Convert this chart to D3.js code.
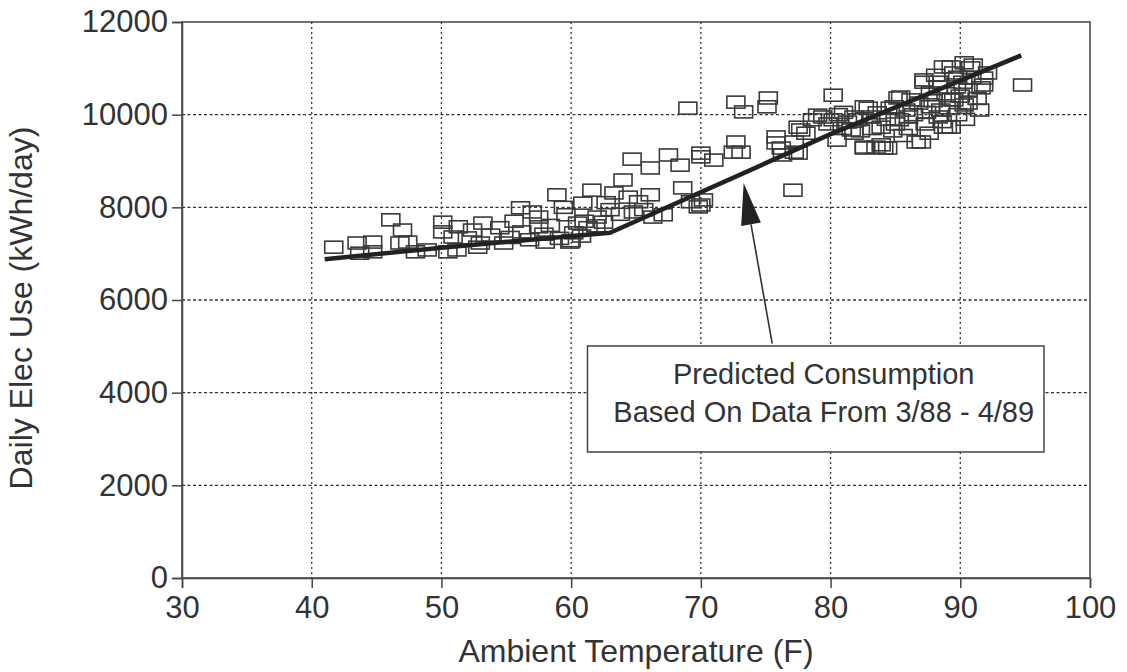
<!DOCTYPE html>
<html>
<head>
<meta charset="utf-8">
<script src="https://cdn.jsdelivr.net/npm/d3@7"></script>
<style>
  body { margin: 0; background: #fff; }
  text { font-family: "Liberation Sans", Arial, sans-serif; fill: #333; }
</style>
</head>
<body>
<div id="chart"></div>
<script>
// measured daily use vs. ambient temperature
const temps = [
  41.7, 43.5, 43.7, 44.7, 44.7, 46.1, 47.0, 46.8, 47.4, 48.0, 48.9, 50.1, 50.1, 50.5, 51.2, 50.9,
  52.0, 52.4, 52.8, 51.3, 53.2, 53.0, 54.8, 56.1, 56.2, 57.5, 57.5, 58.9, 59.6, 59.9, 60.5, 60.9,
  61.6, 62.0, 63.3, 64.0, 64.4, 64.7, 64.8, 66.1, 66.1, 66.3, 67.1, 67.5, 68.4, 68.6, 69.0, 69.8,
  70.0, 70.2, 71.0, 72.7, 72.7, 73.1, 73.3, 75.2, 75.1, 75.8, 77.1, 77.5, 77.2, 76.3, 77.5, 77.2,
  78.1, 78.6, 79.0, 80.2, 80.5, 80.2, 81.3, 82.6, 82.9, 83.5, 83.9, 84.4, 85.2, 85.3, 86.0, 87.0,
  87.2, 88.3, 88.7, 89.3, 88.3, 89.3, 90.3, 90.8, 89.8, 90.6, 90.3, 91.8, 91.8, 94.8, 89.3, 87.7,
  86.2, 84.6, 83.6, 83.1, 82.1, 81.6, 79.4, 77.7, 76.2, 75.8, 86.6, 89.0, 91.0, 87.2, 87.7, 85.4,
  84.9, 82.6, 81.8, 81.8, 82.6, 83.9, 84.1, 88.5, 89.5, 90.6, 91.6, 92.1, 89.5, 88.7, 88.3,
  53.8, 54.5, 55.3, 56.8, 57.9, 58.4, 59.1, 60.2, 60.8, 61.3, 61.9, 62.5, 63.0, 63.8, 65.2, 65.6,
  62.7, 59.4, 57.0, 55.6, 60.0, 58.0, 61.0, 69.2, 70.0, 70.0, 72.5,
  85.8, 86.4, 86.8, 87.4, 87.9, 88.1, 88.9, 89.1, 89.7, 90.0, 90.2, 90.9, 88.6, 87.3, 86.0, 85.0,
  84.3, 83.2, 82.3, 80.9, 79.8, 80.6, 81.0, 84.8, 85.6, 87.6, 89.8, 90.4, 91.3, 91.5
];
const kwh = [
  7140, 7230, 7010, 7250, 7040, 7730, 7510, 7230, 7250, 7040, 7080, 7470, 7680, 7040, 7080, 7360,
  7340, 7510, 7140, 7580, 7660, 7230, 7230, 7990, 7470, 7580, 7790, 8270, 7840, 7250, 7660, 8090,
  8370, 7790, 8310, 8590, 8220, 9040, 7900, 8850, 8270, 7790, 7840, 9130, 8910, 8420, 10140, 8010,
  9170, 8160, 9020, 10270, 9410, 9190, 10060, 10360, 10170, 9390, 8370, 9730, 9190, 9130, 9170, 9410,
  9600, 9890, 9990, 10420, 9450, 9890, 9840, 9280, 10140, 9300, 9730, 9280, 10360, 9890, 9950, 9410,
  10700, 10600, 9730, 9730, 9950, 11030, 11120, 11010, 10810, 10530, 10210, 10790, 10640, 10640, 10320, 10170,
  10320, 10140, 10040, 9950, 9890, 9670, 9950, 9670, 9280, 9520, 9410, 9730, 11070, 10750, 10470, 10380,
  10170, 10170, 9950, 9600, 9300, 9350, 9280, 10100, 10320, 10250, 10580, 10900, 10900, 11030, 10700,
  7400, 7560, 7350, 7300, 7420, 7610, 7330, 7450, 7380, 7560, 7600, 7680, 7950, 7850, 8120, 7950,
  8100, 8000, 7900, 7700, 7280, 7250, 7700, 8120, 8050, 9090, 9190,
  10100, 10000, 10250, 10050, 10300, 10850, 10450, 10150, 10600, 10400, 10700, 10800, 9850, 9800, 9700, 9800,
  9900, 9700, 9650, 9700, 9800, 10000, 10050, 9650, 9550, 9600, 10000, 9900, 10350, 10100
];

// predicted consumption model (change-point line)
const predTemps = [41, 50, 63, 80, 94.7];
const predKwh = [6880, 7130, 7450, 9580, 11280];

const xTicks = [30, 40, 50, 60, 70, 80, 90, 100];
const yTicks = [0, 2000, 4000, 6000, 8000, 10000, 12000];

const noteLines = ["Predicted Consumption", "Based On Data From 3/88 - 4/89"];

const W = 1127, H = 672;
const margin = {top: 22, right: 37, bottom: 94, left: 182};
const width = W - margin.left - margin.right;
const height = H - margin.top - margin.bottom;

const svg = d3.select("#chart").append("svg")
    .attr("width", W)
    .attr("height", H);

const g = svg.append("g")
    .attr("transform", "translate(" + margin.left + "," + margin.top + ")");

const x = d3.scaleLinear().domain([30, 100]).range([0, width]);
const y = d3.scaleLinear().domain([0, 12000]).range([height, 0]);

// dotted grid
g.selectAll(".vgrid")
  .data(xTicks.slice(1, -1))
  .enter().append("line")
    .attr("x1", d => x(d)).attr("x2", d => x(d))
    .attr("y1", 0).attr("y2", height)
    .attr("stroke", "#333")
    .attr("stroke-width", 1.3)
    .attr("stroke-dasharray", "2,3");

g.selectAll(".hgrid")
  .data(yTicks.slice(1, -1))
  .enter().append("line")
    .attr("x1", 0).attr("x2", width)
    .attr("y1", d => y(d)).attr("y2", d => y(d))
    .attr("stroke", "#333")
    .attr("stroke-width", 1.3)
    .attr("stroke-dasharray", "3,2.5");

// frame
g.append("rect")
    .attr("width", width).attr("height", height)
    .attr("fill", "none")
    .attr("stroke", "#444")
    .attr("stroke-width", 1.5);

// axes
const xAxis = g.append("g")
    .attr("transform", "translate(0," + height + ")")
    .call(d3.axisBottom(x).tickValues(xTicks).tickSize(10).tickPadding(8));
const yAxis = g.append("g")
    .call(d3.axisLeft(y).tickValues(yTicks).tickSize(10).tickPadding(4).tickFormat(d3.format("d")));

[xAxis, yAxis].forEach(a => {
  a.select(".domain").attr("stroke", "#444").attr("stroke-width", 1.5);
  a.selectAll(".tick line").attr("stroke", "#444").attr("stroke-width", 1.5);
  a.selectAll(".tick text")
    .attr("fill", "#333")
    .style("font-size", "31px")
    .style("font-family", "'Liberation Sans', Arial, sans-serif");
});

// axis titles
svg.append("text")
    .attr("x", margin.left + width / 2)
    .attr("y", 662)
    .attr("text-anchor", "middle")
    .style("font-size", "32px")
    .text("Ambient Temperature (F)");

svg.append("text")
    .attr("transform", "translate(32," + (margin.top + height / 2 + 8) + ") rotate(-90)")
    .attr("text-anchor", "middle")
    .style("font-size", "32px")
    .text("Daily Elec Use (kWh/day)");

// measured points as hollow rectangles
const pts = temps.map((t, i) => ({t: t, v: kwh[i]}));
g.selectAll(".pt")
  .data(pts)
  .enter().append("rect")
    .attr("x", d => x(d.t) - 9)
    .attr("y", d => y(d.v) - 6)
    .attr("width", 18)
    .attr("height", 12)
    .attr("fill", "none")
    .attr("stroke", "#3a3a3a")
    .attr("stroke-width", 1.6);

// predicted line
const pred = predTemps.map((t, i) => [t, predKwh[i]]);
g.append("path")
    .datum(pred)
    .attr("d", d3.line().x(d => x(d[0])).y(d => y(d[1])))
    .attr("fill", "none")
    .attr("stroke", "#222")
    .attr("stroke-width", 4.5)
    .attr("stroke-linejoin", "round");

// annotation box, anchored in data units
const box = {t0: 61.26, t1: 96.45, v0: 5008, v1: 2720};
g.append("rect")
    .attr("x", x(box.t0))
    .attr("y", y(box.v0))
    .attr("width", x(box.t1) - x(box.t0))
    .attr("height", y(box.v1) - y(box.v0))
    .attr("fill", "#fff")
    .attr("stroke", "#444")
    .attr("stroke-width", 1.5);

const cx = (x(box.t0) + x(box.t1)) / 2 + 8;
g.selectAll(".note")
  .data(noteLines)
  .enter().append("text")
    .attr("x", cx)
    .attr("y", (d, i) => y(box.v0) + 38 + i * 38)
    .attr("text-anchor", "middle")
    .style("font-size", "29px")
    .text(d => d);

// arrow from box to line
const tip = {t: 73.3, v: 8526};
const tail = {t: 75.5, v: 5060};
const ax0 = x(tail.t), ay0 = y(tail.v), ax1 = x(tip.t), ay1 = y(tip.v);
const ang = Math.atan2(ay1 - ay0, ax1 - ax0);
const headLen = 42, headW = 10;
const bx = ax1 - headLen * Math.cos(ang), by = ay1 - headLen * Math.sin(ang);
g.append("line")
    .attr("x1", ax0).attr("y1", ay0)
    .attr("x2", bx).attr("y2", by)
    .attr("stroke", "#333")
    .attr("stroke-width", 1.6);
g.append("path")
    .attr("d", "M" + ax1 + "," + ay1 +
      "L" + (bx + headW * Math.sin(ang)) + "," + (by - headW * Math.cos(ang)) +
      "L" + (bx - headW * Math.sin(ang)) + "," + (by + headW * Math.cos(ang)) + "Z")
    .attr("fill", "#222");
</script>
</body>
</html>
